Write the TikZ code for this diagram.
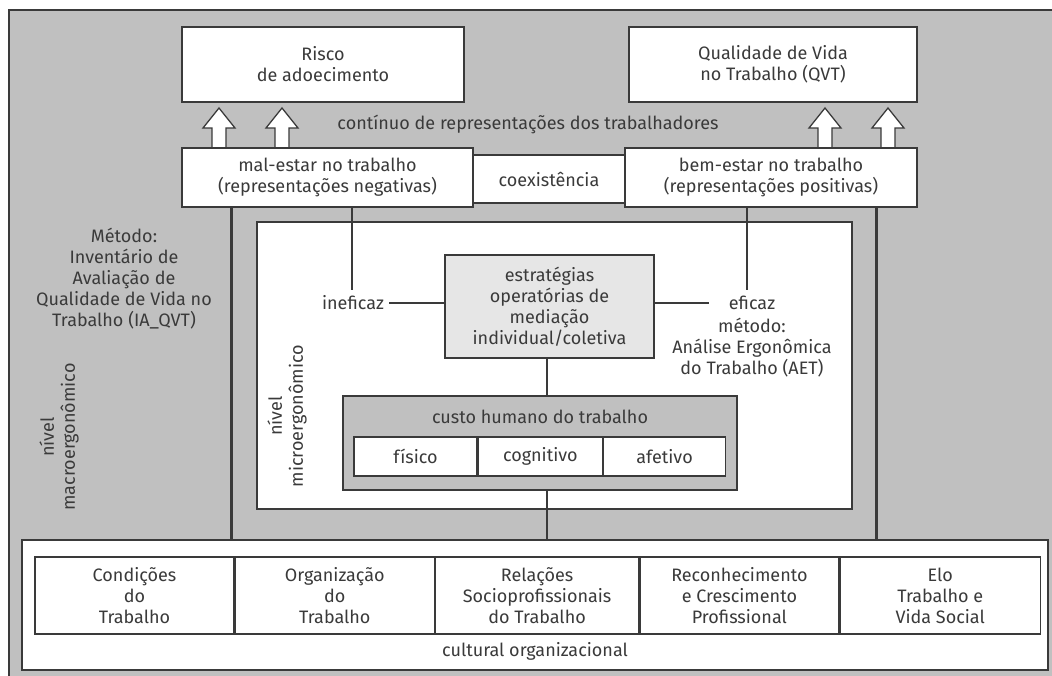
\documentclass[tikz,border=0pt]{standalone}
\usepackage{fontspec}
\setmainfont{Fira Sans}
\usepackage{tikz}
\usepackage{xcolor}
\usetikzlibrary{positioning}
\definecolor{bggray}{RGB}{192,192,192}
\definecolor{lightbox}{RGB}{230,230,230}
\definecolor{inkgray}{RGB}{58,58,58}
\tikzset{
    box/.style={draw=inkgray, line width=1.3pt, fill=white, align=center, inner sep=0pt},
    thin line/.style={draw=inkgray, line width=1.3pt},
    thick line/.style={draw=inkgray, line width=2.6pt},
    label text/.style={align=center, inner sep=1pt}
}

\begin{document}
\begin{tikzpicture}[x=1pt, y=-1pt, font=\fontsize{18}{21}\selectfont, text=inkgray]
            \useasboundingbox (0, 0) rectangle (1052, 676);
            \draw[fill=bggray, draw=inkgray, line width=1.3pt] (9, 10) rectangle (1070, 700);

            % top results
            \node[box, minimum width=282pt, minimum height=75pt] (risco) at (323, 64.5) {Risco\\de adoecimento};
            \node[box, minimum width=288pt, minimum height=75pt] (qvt) at (773, 64.5) {Qualidade de Vida\\no Trabalho (QVT)};

            \foreach \ax in {219, 282, 825, 888}
                \draw[thin line, fill=white] (\ax-7, 148) -- (\ax-7, 128) -- (\ax-16, 128) -- (\ax, 108) -- (\ax+16, 128) -- (\ax+7, 128) -- (\ax+7, 148);
            \node[label text] (continuo) at (528, 124) {contínuo de representações dos trabalhadores};

            % representations
            \node[box, minimum width=152pt, minimum height=48pt] (coex) at (549, 179) {coexistência};
            \node[box, minimum width=291pt, minimum height=59pt] (mal) at (327.5, 177.5) {mal-estar no trabalho\\(representações negativas)};
            \node[box, minimum width=292pt, minimum height=59pt] (bem) at (771, 177.5) {bem-estar no trabalho\\(representações positivas)};

            % bottom factors
            \node[box, line width=2.6pt, minimum width=1026pt, minimum height=130pt] (outer) at (535, 605) {};
            \node[box, minimum width=199pt, minimum height=77pt] (cond) at (134.5, 595.5) {Condições\\do\\Trabalho};
            \node[box, minimum width=199pt, minimum height=77pt, right=0pt of cond] (org) {Organização\\do\\Trabalho};
            \node[box, minimum width=203pt, minimum height=77pt, right=0pt of org] (rel) {Relações\\Socioprofissionais\\do Trabalho};
            \node[box, minimum width=199pt, minimum height=77pt, right=0pt of rel] (rec) {Reconhecimento\\e Crescimento\\Profissional};
            \node[box, minimum width=200pt, minimum height=77pt, right=0pt of rec] (elo) {Elo\\Trabalho e\\Vida Social};
            \node[label text] (cultural) at (535, 651) {cultural organizacional};

            \draw[thick line] ([xshift=50pt]mal.south west) -- ([xshift=50pt]mal.south west |- outer.north);
            \draw[thick line] ([xshift=-41pt]bem.south east) -- ([xshift=-41pt]bem.south east |- outer.north);

            % micro level
            \node[box, minimum width=595pt, minimum height=287pt] (micro) at (554.5, 365.5) {};
            \node[box, fill=lightbox, minimum width=209pt, minimum height=103pt] (estrat) at (549.5, 306.5) {estratégias\\operatórias de\\mediação\\individual/coletiva};
            \node[label text, inner ysep=6pt] (ineficaz) at (353, 303) {ineficaz};
            \node[label text, inner ysep=6pt] (eficaz) at (752, 303) {eficaz};
            \node[label text, below=1pt of eficaz] (aet) {método:\\Análise Ergonômica\\do Trabalho (AET)};

            \draw[thin line] ([xshift=-1pt]ineficaz.north) -- ([xshift=-1pt]ineficaz.north |- mal.south);
            \draw[thin line] ([xshift=-5pt]eficaz.north) -- ([xshift=-5pt]eficaz.north |- bem.south);
            \draw[thin line] ([xshift=4pt]ineficaz.east) -- (ineficaz.east -| estrat.west);
            \draw[thin line] (estrat.east |- eficaz) -- ([xshift=-19pt]eficaz.west);

            \node[box, fill=bggray, minimum width=394pt, minimum height=94pt] (custo) at (540, 443) {};
            \node[label text] (custotxt) at (540, 417) {custo humano do trabalho};
            \node[box, minimum width=123pt, minimum height=39pt] (fisico) at (415.5, 456.5) {físico};
            \node[box, minimum width=124pt, minimum height=39pt, right=0pt of fisico] (cognitivo) {cognitivo};
            \node[box, minimum width=122pt, minimum height=39pt, right=0pt of cognitivo] (afetivo) {afetivo};

            \draw[thin line] ([xshift=-2.5pt]estrat.south) -- ([xshift=-2.5pt]estrat.south |- custo.north);
            \draw[thin line] ([xshift=7pt]custo.south) -- ([xshift=7pt]custo.south |- outer.north);

            % side labels
            \node[label text] (metodo) at (124, 279) {Método:\\Inventário de\\Avaliação de\\Qualidade de Vida no\\Trabalho (IA\_QVT)};
            \node[label text, rotate=90] (macro) at (59, 437) {nível\\macroergonômico};
            \node[label text, rotate=90] (microtxt) at (287, 416) {nível\\microergonômico};
        \end{tikzpicture}
\end{document}
